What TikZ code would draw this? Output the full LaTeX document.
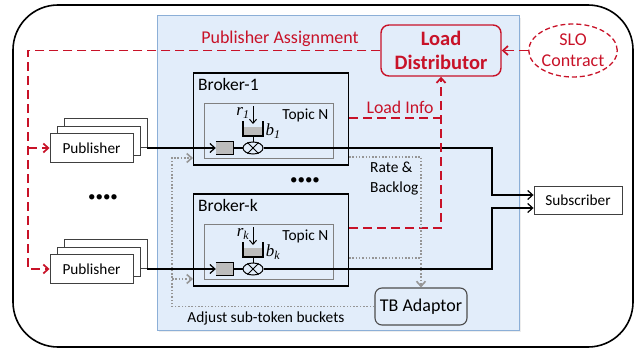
\documentclass[tikz,border=0pt]{standalone}
\usepackage{fontspec}
\setmainfont{Carlito}
\newfontfamily\varfont{Liberation Serif}
\usetikzlibrary{arrows.meta, positioning, shapes.geometric}
\definecolor{ldred}{RGB}{200,18,40}
\definecolor{panelblue}{RGB}{226,237,250}
\definecolor{paneledge}{RGB}{140,175,215}
\definecolor{topicgray}{RGB}{128,128,128}
\definecolor{qgray}{RGB}{188,188,188}
\definecolor{ctlgray}{RGB}{150,150,150}

\begin{document}
\begin{tikzpicture}[x=1pt, y=-1pt,
  pubbox/.style={rectangle, draw=black!75, fill=white, line width=0.9pt, inner sep=0pt,
                 minimum width=83pt, minimum height=29pt, font=\fontsize{15.3}{18}\selectfont},
  subbox/.style={pubbox, minimum width=88pt, minimum height=28pt},
  broker/.style={rectangle, draw=black, line width=1.1pt, minimum width=155pt, minimum height=92pt},
  topic/.style={rectangle, draw=topicgray, line width=0.9pt, minimum width=129pt, minimum height=55pt},
  queue/.style={rectangle, fill=qgray, inner sep=0pt, minimum width=17pt, minimum height=13pt},
  mult/.style={ellipse, draw=black, line width=1pt, inner sep=0pt, minimum width=20pt, minimum height=12pt},
  ldbox/.style={rectangle, rounded corners=8pt, draw=ldred, line width=1.4pt, align=center, text=ldred,
                minimum width=120pt, minimum height=51pt, font=\fontsize{20.5}{24}\selectfont\bfseries},
  tbbox/.style={rectangle, rounded corners=7pt, draw=black!70, line width=1.1pt,
                minimum width=92pt, minimum height=37pt, font=\fontsize{18}{21}\selectfont},
  lbl/.style={inner sep=0pt, font=\fontsize{15.4}{20}\selectfont},
  sym/.style={inner sep=0pt, font=\fontsize{17}{19}\selectfont\varfont\itshape},
  barb/.style={-{Straight Barb[length=5pt,width=9pt]}},
  flow/.style={line width=1.2pt},
  sig/.style={draw=ldred, line width=1.7pt, dash pattern=on 9pt off 5pt},
  ctl/.style={draw=ctlgray, line width=1.6pt, dash pattern=on 1.5pt off 1.8pt}
]
\useasboundingbox (0,0) rectangle (644,350);

% frame and broker cluster
\node[draw, line width=1.6pt, rounded corners=45pt, minimum width=620pt, minimum height=342pt] (frame) at (323,176) {};
\fill[black!7] (159,18) rectangle (521,332);
\node[draw=paneledge, fill=panelblue, line width=1pt, minimum width=362pt, minimum height=314pt] (cluster) at (338,173) {};

% load distributor and contract
\node[ldbox] (ld) at (441,50.5) {Load\\Distributor};
\node[ellipse, draw=ldred, line width=1.3pt, dash pattern=on 5pt off 3pt, inner sep=0pt, align=center, text=ldred,
      minimum width=72pt, minimum height=53pt, font=\fontsize{18}{21}\selectfont] (slo) at (573,50.5) {SLO\\Contract};
\draw[sig, barb] (slo) -- (ld);

% brokers with one topic each
\foreach \n/\y/\s in {1/148/1, k/269/k} {
  \node[broker] (brk\n) at (271,\y-29) {};
  \node[anchor=north west, inner sep=0pt, font=\fontsize{17.5}{20}\selectfont] (name\n)
       at ([xshift=5pt,yshift=-6pt]brk\n.north west) {Broker-\n};
  \node[topic] (top\n) at (268.5,\y-17) {};
  \node[lbl, anchor=north east] (tn\n) at ([xshift=-5pt,yshift=-6pt]top\n.north east) {Topic N};
  \node[queue] (q\n) at (224.5,\y) {};
  \draw[line width=1.4pt] (q\n.north west) -- (q\n.north east) -- (q\n.south east) -- (q\n.south west);
  \node[mult] (c\n) at (253,\y) {};
  \draw[line width=1pt] (c\n.45) -- (c\n.225) (c\n.135) -- (c\n.315);
  \fill[qgray] (243,\y-21) rectangle (263,\y-12);
  \draw[line width=1.5pt] (243,\y-27) -- (243,\y-12) -- (263,\y-12) -- (263,\y-27);
  \draw[line width=1pt] (253,\y-12) -- (c\n.north);
  \draw[line width=1pt, -{Straight Barb[length=4pt,width=7pt]}] (253,\y-42) -- (253,\y-24);
  \node[sym] (r\n) at (243,\y-35) {r\textsubscript{\s}};
  \node[sym] (b\n) at (273,\y-17) {b\textsubscript{\s}};
  \draw[flow] (q\n) -- (c\n);
  \coordinate (tin\n) at ([yshift=-39pt]brk\n.west);
}
\node[font=\fontsize{15}{18}\selectfont] (dotsb) at (305,181) {\textbullet\textbullet\textbullet\textbullet};

% publishers, stacked
\foreach \n/\y in {1/148, k/269} {
  \node[pubbox] (pubc\n) at (105.5,\y-15) {};
  \node[pubbox] (pubb\n) at (98.5,\y-7.5) {};
  \node[pubbox] (pub\n) at (91.5,\y) {Publisher};
  \draw[flow, barb] (pubc\n.east |- q\n) -- (q\n);
}
\node[font=\fontsize{15}{18}\selectfont] (dotsp) at (103,198) {\textbullet\textbullet\textbullet\textbullet};

% subscriber
\node[subbox] (sub) at (578,200) {Subscriber};
\coordinate (bus) at (492,0);
\draw[flow, barb] (c1) -- (c1 -| bus) |- ([yshift=5pt]sub.west);
\draw[flow, barb] (ck) -- (ck -| bus) |- ([yshift=-8pt]sub.west);

% publisher assignment
\coordinate (pa) at (28,0);
\node[text=ldred, font=\fontsize{18}{21}\selectfont] (palbl) at (280,39) {Publisher Assignment};
\draw[sig, barb] (ld.west) -- (ld.west -| pa) |- (pubk.west);
\draw[sig, barb] (pub1.west -| pa) -- (pub1.west);

% load info
\coordinate (li1) at ([yshift=1pt]brk1.east);
\coordinate (lik) at ([yshift=12pt]brkk.east);
\draw[sig] (li1) -- (li1 -| ld.south);
\draw[sig, barb] (lik) -| (ld.south);
\node[text=ldred, font=\fontsize{17.8}{21}\selectfont] (lilbl) at (400,107) {Load Info};

% token bucket adaptor
\node[tbbox] (tb) at (421,306.5) {TB Adaptor};
\coordinate (rb1) at ([yshift=-38pt]brk1.east);
\coordinate (rbk) at ([yshift=-18pt]brkk.east);
\draw[ctl, barb] (rb1) -| (tb.north);
\draw[ctl] (rbk) -- (rbk -| tb.north);
\node[lbl, align=left, anchor=west] (rate) at (370,179) {Rate \&\\Backlog};

\coordinate (adj) at (172,0);
\draw[ctl, barb] (tb.west) -- (tb.west -| adj) |- (tin1);
\draw[ctl, barb] (tink -| adj) -- (tink);
\node[lbl] (adjlbl) at (266,318) {Adjust sub-token buckets};
\end{tikzpicture}
\end{document}
